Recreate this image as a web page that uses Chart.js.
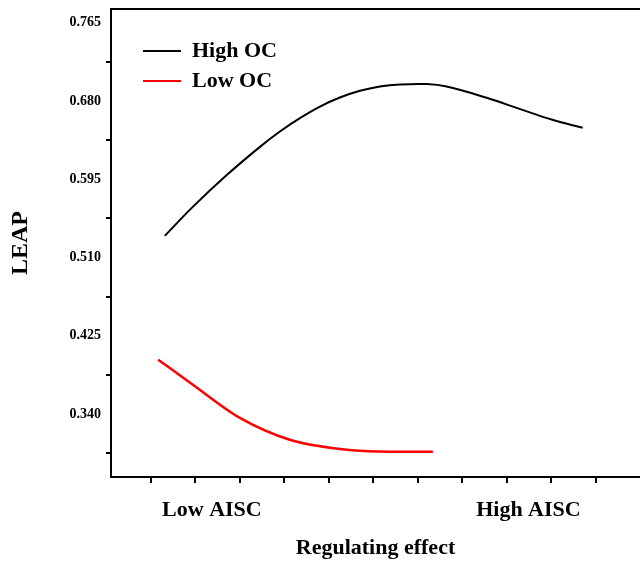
<!DOCTYPE html>
<html>
<head>
<meta charset="utf-8">
<script src="https://cdn.jsdelivr.net/npm/chart.js@4/dist/chart.umd.min.js"></script>
<style>
  html, body { margin: 0; padding: 0; background: #fff; }
  #wrap { width: 640px; height: 565px; position: relative; }
</style>
</head>
<body>
<div id="wrap"><canvas id="chart"></canvas></div>
<script>
// series (x in axis tick units, 0..10)
const highX = [0.31, 0.94, 1.71, 2.45, 2.90, 3.35, 3.80, 4.25, 4.70, 5.15, 5.60, 6.20, 6.65, 7.55, 8.29, 9.03, 9.71]
const highY = [0.5335, 0.565, 0.5998, 0.6302, 0.6469, 0.6614, 0.674, 0.6838, 0.6911, 0.6958, 0.698, 0.6984, 0.6957, 0.6835, 0.6715, 0.6596, 0.6509]
const lowX = [0.16, 0.88, 2.0, 3.12, 4.25, 5.37, 6.34]
const lowY = [0.399, 0.374, 0.3357, 0.312, 0.302, 0.299, 0.299]

const yTickLabels = [0.340, 0.425, 0.510, 0.595, 0.680, 0.765]
const yMinorTicks = [0.2975, 0.3825, 0.4675, 0.5525, 0.6375, 0.7225]
const xTicks = [0, 1, 2, 3, 4, 5, 6, 7, 8, 9, 10]
const xCategories = ['Low AISC', 'High AISC']
const xCategoryPos = [1.37, 8.49]

const FONT = "'Liberation Serif', 'Times New Roman', serif"
Chart.defaults.font.family = FONT
Chart.defaults.font.weight = 'bold'
Chart.defaults.color = '#000'

const toPoints = (xs, ys) => xs.map((x, i) => ({ x: x, y: ys[i] }))

// nudge the in-plot legend away from the axes
const legendShift = {
  id: 'legendShift',
  afterLayout(chart) {
    const lg = chart.legend
    lg.left += 24
    lg.right += 24
    lg.top += 32
    lg.bottom += 32
  }
}

new Chart(document.getElementById('chart'), {
  type: 'line',
  data: {
    datasets: [
      {
        label: 'High OC',
        data: toPoints(highX, highY),
        borderColor: '#000',
        borderWidth: 2,
        pointRadius: 0,
        tension: 0.4
      },
      {
        label: 'Low OC',
        data: toPoints(lowX, lowY),
        borderColor: '#ff0000',
        borderWidth: 2.5,
        pointRadius: 0,
        cubicInterpolationMode: 'monotone'
      }
    ]
  },
  plugins: [legendShift],
  options: {
    responsive: true,
    maintainAspectRatio: false,
    animation: false,
    layout: { padding: { top: 9, right: 0, left: 0, bottom: 0 } },
    plugins: {
      tooltip: { enabled: false },
      legend: {
        position: 'chartArea',
        align: 'start',
        labels: {
          boxWidth: 38,
          boxHeight: 2,
          padding: 8,
          color: '#000',
          font: { family: FONT, size: 22, weight: 'bold' },
          generateLabels: chart => chart.data.datasets.map((ds, i) => ({
            text: ds.label,
            fillStyle: ds.borderColor,
            strokeStyle: ds.borderColor,
            lineWidth: 0,
            hidden: false,
            datasetIndex: i
          }))
        }
      }
    },
    scales: {
      x: {
        type: 'linear',
        min: -0.9,
        max: 11,
        afterBuildTicks: axis => {
          const t = xTicks.map(v => ({ value: v }))
          xCategoryPos.forEach(v => t.push({ value: v }))
          axis.ticks = t.sort((a, b) => a.value - b.value)
        },
        afterFit: axis => {
          axis.height = 88
          axis.paddingLeft = 0
          axis.paddingRight = 0
        },
        ticks: {
          autoSkip: false,
          maxRotation: 0,
          padding: 14,
          font: { size: 22, weight: 'bold' },
          callback: v => {
            const i = xCategoryPos.indexOf(v)
            return i >= 0 ? xCategories[i] : ''
          }
        },
        grid: {
          drawOnChartArea: false,
          drawTicks: true,
          tickLength: 6,
          lineWidth: 2,
          color: ctx => (ctx.tick && xTicks.includes(ctx.tick.value)) ? '#000' : 'rgba(0,0,0,0)'
        },
        border: { display: true, color: '#000', width: 2 },
        title: {
          display: true,
          text: 'Regulating effect',
          font: { size: 22, weight: 'bold' },
          padding: { top: 0, bottom: 3 }
        }
      },
      xTop: {
        type: 'linear',
        position: 'top',
        min: -0.9,
        max: 11,
        afterFit: axis => { axis.height = 0 },
        ticks: { display: false },
        grid: { display: false },
        border: { display: true, color: '#000', width: 2 }
      },
      y: {
        type: 'linear',
        min: 0.2715,
        max: 0.780,
        afterBuildTicks: axis => {
          axis.ticks = yTickLabels.concat(yMinorTicks)
            .sort((a, b) => a - b)
            .map(v => ({ value: v }))
        },
        afterFit: axis => {
          axis.width = 111
          axis.paddingTop = 0
          axis.paddingBottom = 0
        },
        ticks: {
          autoSkip: false,
          padding: 5,
          font: { size: 14, weight: 'bold' },
          callback: v => yTickLabels.includes(v) ? v.toFixed(3) : ''
        },
        grid: {
          drawOnChartArea: false,
          drawTicks: true,
          tickLength: 5,
          lineWidth: 2,
          color: ctx => (ctx.tick && yMinorTicks.includes(ctx.tick.value)) ? '#000' : 'rgba(0,0,0,0)'
        },
        border: { display: true, color: '#000', width: 2 },
        title: {
          display: true,
          text: 'LEAP',
          font: { size: 24, weight: 'bold' },
          padding: { top: 6, bottom: 0 }
        }
      }
    }
  }
})
</script>
</body>
</html>
